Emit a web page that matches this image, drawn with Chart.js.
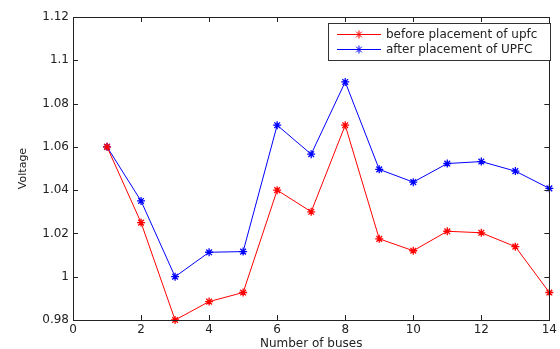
<!DOCTYPE html>
<html>
<head>
<meta charset="utf-8">
<script src="https://cdn.jsdelivr.net/npm/chart.js@4/dist/chart.umd.min.js"></script>
<style>
  html, body { margin: 0; padding: 0; background: #fff; }
  #wrap { width: 560px; height: 349px; }
</style>
</head>
<body>
<div id="wrap"><canvas id="chart" width="560" height="349"></canvas></div>
<script>
const buses = [1, 2, 3, 4, 5, 6, 7, 8, 9, 10, 11, 12, 13, 14];
const beforeUpfc = [1.060, 1.025, 0.980, 0.9885, 0.9927, 1.040, 1.030, 1.070, 1.0175, 1.012, 1.021, 1.0203, 1.0139, 0.9927];
const afterUpfc = [1.060, 1.035, 1.000, 1.0113, 1.0116, 1.070, 1.0566, 1.090, 1.0496, 1.0437, 1.0523, 1.0532, 1.0488, 1.0408];
const xTicks = [0, 2, 4, 6, 8, 10, 12, 14];
const yTicks = [0.98, 1.00, 1.02, 1.04, 1.06, 1.08, 1.10, 1.12];
const seriesNames = ['before placement of upfc', 'after placement of UPFC'];

const FONT = '"DejaVu Sans", sans-serif';

// inward ticks + box, MATLAB style
const framePlugin = {
    id: 'frame',
    afterDatasetsDraw(chart) {
        const ctx = chart.ctx;
        const a = chart.chartArea;
        const xs = chart.scales.x, ys = chart.scales.y;
        ctx.save();
        ctx.strokeStyle = '#222';
        ctx.lineWidth = 1;
        ctx.beginPath();
        xTicks.forEach(function (t) {
            const px = Math.round(xs.getPixelForValue(t)) + 0.5;
            ctx.moveTo(px, a.bottom); ctx.lineTo(px, a.bottom - 5);
            ctx.moveTo(px, a.top); ctx.lineTo(px, a.top + 5);
        });
        yTicks.forEach(function (t) {
            const py = Math.round(ys.getPixelForValue(t)) + 0.5;
            ctx.moveTo(a.left, py); ctx.lineTo(a.left + 5, py);
            ctx.moveTo(a.right, py); ctx.lineTo(a.right - 5, py);
        });
        ctx.stroke();
        ctx.strokeRect(Math.round(a.left) + 0.5, Math.round(a.top) + 0.5,
            Math.round(a.right - a.left), Math.round(a.bottom - a.top));

        // legend
        const lx = 328.5, ly = 23.5, lw = 222, lh = 37;
        ctx.fillStyle = '#fff';
        ctx.fillRect(lx, ly, lw, lh);
        ctx.strokeStyle = '#333';
        ctx.strokeRect(lx, ly, lw, lh);
        const colors = ['#ff0000', '#0000ff'];
        const rows = [34, 49];
        ctx.font = '12px ' + FONT;
        ctx.textBaseline = 'middle';
        seriesNames.forEach(function (name, i) {
            const y = rows[i];
            ctx.strokeStyle = colors[i];
            ctx.beginPath();
            ctx.moveTo(337, y + 0.5); ctx.lineTo(381, y + 0.5);
            ctx.stroke();
            Chart.helpers.drawPoint(ctx, { pointStyle: 'star', radius: 4, rotation: 0, borderWidth: 1 }, 359, y + 0.5);
            ctx.fillStyle = '#222';
            ctx.fillText(name, 386, y + 1);
        });
        ctx.restore();
    }
};

new Chart(document.getElementById('chart'), {
    type: 'line',
    data: {
        datasets: [
            {
                label: seriesNames[0],
                data: buses.map(function (b, i) { return { x: b, y: beforeUpfc[i] }; }),
                borderColor: '#ff0000',
                pointBorderColor: '#ff0000',
                borderWidth: 1,
                pointStyle: 'star',
                pointRadius: 4,
                pointBorderWidth: 1.3,
                tension: 0,
                clip: false
            },
            {
                label: seriesNames[1],
                data: buses.map(function (b, i) { return { x: b, y: afterUpfc[i] }; }),
                borderColor: '#0000ff',
                pointBorderColor: '#0000ff',
                borderWidth: 1,
                pointStyle: 'star',
                pointRadius: 4,
                pointBorderWidth: 1.3,
                tension: 0,
                clip: false
            }
        ]
    },
    options: {
        responsive: false,
        animation: false,
        events: [],
        layout: { padding: { left: 0, right: 3, top: 17, bottom: 0 } },
        plugins: { legend: { display: false }, tooltip: { enabled: false } },
        scales: {
            x: {
                type: 'linear',
                min: 0, max: 14,
                afterBuildTicks: function (s) { s.ticks = xTicks.map(function (v) { return { value: v }; }); },
                afterFit: function (s) { s.height = 29; },
                grid: { display: false, drawTicks: false },
                border: { display: false },
                ticks: { color: '#222', font: { family: FONT, size: 12 }, padding: 3, maxRotation: 0 },
                title: { display: true, text: 'Number of buses', color: '#222', font: { family: FONT, size: 12 }, padding: { top: 0, bottom: -2 } }
            },
            y: {
                type: 'linear',
                min: 0.98, max: 1.12,
                afterBuildTicks: function (s) { s.ticks = yTicks.map(function (v) { return { value: v }; }); },
                afterFit: function (s) { s.width = 73; },
                grid: { display: false, drawTicks: false },
                border: { display: false },
                ticks: {
                    color: '#222', font: { family: FONT, size: 12 }, padding: 4,
                    callback: function (v) { return String(+v.toFixed(2)); }
                },
                title: { display: true, text: 'Voltage', color: '#222', font: { family: FONT, size: 11 }, padding: { top: 17, bottom: 0 } }
            }
        }
    },
    plugins: [framePlugin]
});
</script>
</body>
</html>
